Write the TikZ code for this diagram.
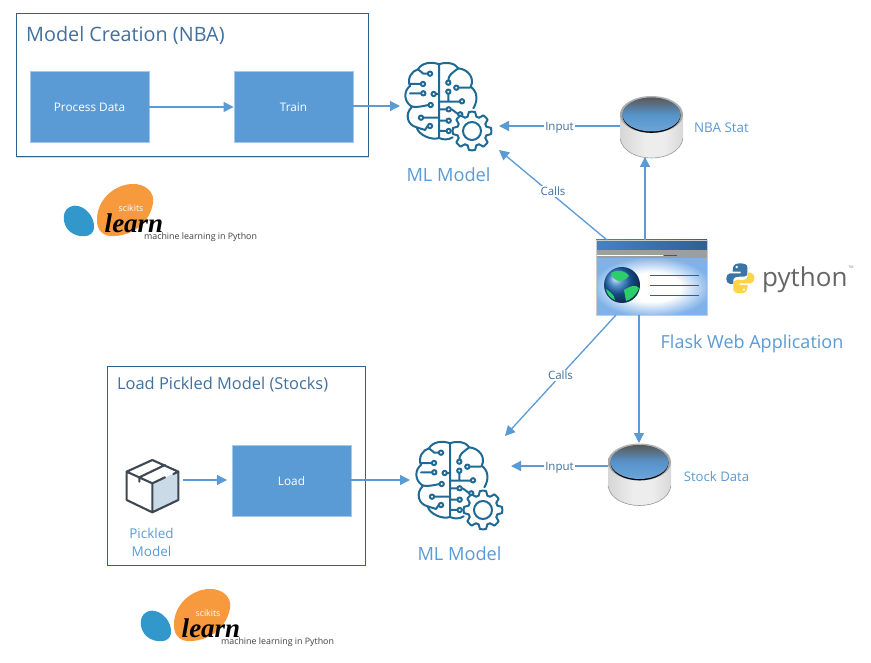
\documentclass[tikz,border=0pt]{standalone}
\usepackage{fontspec}
\setmainfont{Open Sans}
\newfontfamily\learnfont{Liberation Serif}
\usetikzlibrary{arrows.meta,shadows,calc}
\definecolor{fc}{HTML}{5B9BD5}
\definecolor{hd}{HTML}{41719C}
\definecolor{bb}{HTML}{2F6090}
\definecolor{br}{HTML}{1F6A94}
\definecolor{pk}{HTML}{3E4852}
\definecolor{webedge}{HTML}{7FB2E8}
\definecolor{cyla}{HTML}{7E7E7E}
\definecolor{cylb}{HTML}{C6C6C6}
\definecolor{cylc}{HTML}{EDEDED}
\pgfdeclareradialshading{webglow}{\pgfpoint{0bp}{0bp}}{color(0bp)=(white);color(13bp)=(white);color(27bp)=(webedge);color(50bp)=(webedge)}
\pgfdeclarehorizontalshading{cylbody}{100bp}{color(0bp)=(cyla);color(4bp)=(cyla);color(11bp)=(cylb);color(45bp)=(cylc);color(60bp)=(cylc);color(88bp)=(cylb);color(96bp)=(cyla);color(100bp)=(cyla)}
\newcommand{\fsz}[1]{\fontsize{#1}{#1}\selectfont}
\tikzset{
 x=1pt,y=-1pt,
 outerbox/.style={draw=bb,line width=0.8pt,fill=white,anchor=north west,inner sep=0pt},
 bluebox/.style={draw=fc!55!white,line width=0.8pt,fill=fc,anchor=center,inner sep=0pt,minimum width=119pt,minimum height=71pt,text=white,font=\fsz{11.8},drop shadow={shadow xshift=0.8pt,shadow yshift=-0.8pt,fill=black!40,opacity=0.5}},
 flow/.style={draw=fc,line width=1.3pt,-{Triangle[length=10pt,width=10pt]}},
 lab/.style={fill=white,inner sep=1pt,text=hd,font=\fsz{11.5}},
 title/.style={text=hd,font=\fsz{19.8},anchor=west,inner sep=0pt},
 txt/.style={text=fc,inner sep=0pt,align=center},
 brl/.style={draw=br,line width=2pt,line cap=round,line join=round},
 brainicon/.pic={
  \begin{scope}[scale=1/3]
   \draw[brl] (147,43) .. controls (125,34) and (95,38) .. (84,58) .. controls (66,62) and (50,85) .. (60,108) .. controls (42,122) and (40,150) .. (62,168) .. controls (70,172) and (85,172) .. (115,165)
     (65,172) .. controls (45,190) and (50,225) .. (80,232) .. controls (85,255) and (125,272) .. (147,264) -- (147,43);
   \draw[brl] (147,43) .. controls (165,35) and (195,38) .. (205,55) .. controls (235,58) and (255,85) .. (242,110) .. controls (262,125) and (265,150) .. (250,175)
     (147,264) .. controls (160,270) and (175,270) .. (188,262);
   \draw[brl] (84,58) -- (100,71) -- (113,71) (58,102) -- (92,102) (60,130) -- (93,130) (147,132) -- (137,132)
     (100,203) -- (147,203) (80,232) -- (105,240) -- (113,228);
   \foreach \p in {(120,71),(99,102),(100,130),(131,132),(122,165),(93,203),(120,228)} \draw[brl,fill=white] \p circle (6.5);
   \draw[brl] (175,92) .. controls (175,75) and (185,70) .. (205,55) (205,113) -- (240,113)
     (175,127) -- (175,155) (147,155) -- (210,155) (147,178) -- (170,178) (147,212) -- (170,212) (147,243) -- (170,243) (185,178) -- (204,192);
   \foreach \p in {(175,98),(199,113),(175,125),(216,154),(176,178),(211,193),(176,212),(176,243)} \draw[brl,fill=white] \p circle (6.5);
   \draw[brl,fill=white] ($(246,243)+(0:58)$)
    \foreach \a in {0,45,...,315}{
      -- ($(246,243)+(\a+9:58)$) -- ($(246,243)+(\a+17:45)$) -- ($(246,243)+(\a+28:45)$) -- ($(246,243)+(\a+36:58)$) -- ($(246,243)+(\a+45:58)$)
    } -- cycle;
   \draw[brl,fill=white] (246,243) circle (27);
  \end{scope}
 },
 cylicon/.pic={
  \shade[shading=cylbody] (-31.5,-2) -- (31.5,-2) -- (31.5,24) .. controls (27,50) and (-27,50) .. (-31.5,24) -- cycle;
  \draw[black!40,line width=0.6pt] (-31.5,24) .. controls (-27,50) and (27,50) .. (31.5,24);
  \shade[top color=black!30,bottom color=black!40] (0,0) ellipse[x radius=31.5,y radius=18.5];
  \path[fill=black] (0,0.8) ellipse[x radius=29,y radius=17.5];
  \shade[top color=black!65,bottom color=fc!90!white,middle color=fc!95!black] (0,0) ellipse[x radius=29,y radius=17];
 },
 pkgicon/.pic={
  \begin{scope}[scale=1/3]
   \fill[fill=pk!30!fc!30!white] (127,100) -- (205,65) -- (205,150) -- (127,187) -- cycle;
   \draw[draw=pk,line width=2.1pt,line join=round,line cap=round] (127,30) -- (205,65) -- (205,150) -- (127,187) -- (50,150) -- (50,65) -- cycle
     (50,65) -- (127,100) -- (127,187) (127,100) -- (165,82) (190,72) -- (205,65) (165,45) -- (88,82) -- (88,95);
  \end{scope}
 },
 skl/.pic={
  \begin{scope}[scale=1/3]
   \fill[fill={rgb,255:red,247;green,154;blue,62}] (245,27) .. controls (290,25) and (315,55) .. (309,85) .. controls (300,135) and (260,175) .. (205,182) .. controls (165,190) and (138,170) .. (141,130) .. controls (143,75) and (190,30) .. (245,27) -- cycle;
   \fill[fill={rgb,255:red,50;green,152;blue,204}] (75,92) .. controls (105,92) and (135,125) .. (132,160) .. controls (128,190) and (85,190) .. (60,170) .. controls (35,150) and (30,95) .. (75,92) -- cycle;
  \end{scope}
 },
 pylogo/.pic={
  \begin{scope}[scale=1/3]
   \fill[fill={rgb,255:red,58;green,117;blue,170}] (449,550) .. controls (430,550) and (428,560) .. (428,575) -- (452,575) -- (452,580) -- (420,580) .. controls (405,582) and (405,610) .. (420,612) -- (430,612) -- (430,600) .. controls (430,592) and (440,590) .. (450,590) -- (462,590) .. controls (470,590) and (472,585) .. (472,578) -- (472,562) .. controls (472,553) and (462,550) .. (449,550) -- cycle;
   \fill[fill={rgb,255:red,255;green,212;blue,70}] (452,640) .. controls (470,640) and (473,630) .. (473,615) -- (449,615) -- (449,610) -- (482,610) .. controls (497,608) and (497,580) .. (482,578) -- (472,578) -- (472,590) .. controls (472,598) and (462,600) .. (452,600) -- (440,600) .. controls (432,600) and (430,605) .. (430,612) -- (430,628) .. controls (430,637) and (440,640) .. (452,640) -- cycle;
   \fill[white] (440,561) circle (4) (462,629) circle (4);
  \end{scope}
 },
 browser/.pic={
  \shade[left color={rgb,255:red,70;green,130;blue,200},right color=bb] (0,0) rectangle (111,10);
  \fill[black!38] (0,10) rectangle (111,19);
  \draw[white,line width=0.7pt] (1,15) -- (67,15);
  \draw[green!55!black,line width=0.7pt] (68,15) -- (81,15);
  \shade[shading=webglow] (0,19) rectangle (111,75);
  \draw[black!20,line width=0.8pt] (0,0) rectangle (111,75);
  \draw[bb,line width=0.8pt] (54,35) -- (103,35) (54,45) -- (103,45) (54,55) -- (103,55);
  \shade[ball color={rgb,255:red,30;green,110;blue,190}] (26,45) circle (18);
  \fill[green!50!fc] (15,33) .. controls (22,29) and (30,31) .. (33,36) .. controls (28,42) and (18,44) .. (15,33) -- cycle
    (28,50) .. controls (34,46) and (40,44) .. (43,48) .. controls (40,56) and (34,60) .. (30,61) -- cycle
    (10,49) .. controls (14,52) and (18,54) .. (19,60) .. controls (14,58) and (11,54) .. (10,49) -- cycle;
 }
}
\begin{document}
\begin{tikzpicture}
\useasboundingbox (0,0) rectangle (871,663);
\fill[white] (0,0) rectangle (871,663);
\node[outerbox,minimum width=352pt,minimum height=143pt,drop shadow={shadow xshift=0.8pt,shadow yshift=-0.8pt,fill=black!30}] (creation) at (15.5,13.5) {};
\node[outerbox,minimum width=258pt,minimum height=198pt,drop shadow={shadow xshift=0.8pt,shadow yshift=-0.8pt,fill=black!30}] (pickled) at (106.5,366.5) {};
\node[title] (creationT) at (26,36) {Model Creation (NBA)};
\node[title,font=\fsz{16.4}] (pickledT) at (117,384.5) {Load Pickled Model (Stocks)};
\node[bluebox] (proc) at (89.5,107) {Process Data};
\node[bluebox] (train) at (293.5,107) {Train};
\node[bluebox] (load) at (291.5,481) {Load};
\pic (brainA) at (390,50) {brainicon};
\pic (brainB) at (401,429) {brainicon};
\pic (cylA) at (651.5,114.5) {cylicon};
\pic (cylB) at (639.5,462) {cylicon};
\pic (web) at (596,240) {browser};
\pic (pkg) at (110,450) {pkgicon};
\pic (logoA) at (50,175) {skl};
\pic (logoB) at (127,580) {skl};
\pic (py) at (590,80) {pylogo};
\node[inner sep=0pt,text=white,font=\fsz{8.8}] (sciA) at (131,208.5) {scikits};
\node[inner sep=0pt,font=\learnfont\bfseries\itshape\fsz{27}] (leA) at (134,223) {learn};
\node[inner sep=0pt,text=black!75,font=\fsz{8.85},anchor=west] (maA) at (144,237.5) {machine learning in Python};
\node[inner sep=0pt,text=white,font=\fsz{8.8}] (sciB) at (208,613.5) {scikits};
\node[inner sep=0pt,font=\learnfont\bfseries\itshape\fsz{27}] (leB) at (211,628) {learn};
\node[inner sep=0pt,text=black!75,font=\fsz{8.85},anchor=west] (maB) at (221,642.5) {machine learning in Python};
\node[inner sep=0pt,text=black!60,font=\fsz{26},anchor=west] (pyT) at (762,280) {python};
\node[inner sep=0pt,text=black!50,font=\fsz{3.5}] (pyTM) at (851,267) {TM};
\node[txt,font=\fsz{18.2}] (mlA) at (448.5,175) {ML Model};
\node[txt,font=\fsz{18.2}] (mlB) at (459.5,554) {ML Model};
\node[txt,font=\fsz{13.4}] (nbaT) at (721.5,127.5) {NBA Stat};
\node[txt,font=\fsz{13.2}] (stockT) at (716.5,477) {Stock Data};
\node[txt,font=\fsz{18}] (flask) at (752,343.5) {Flask Web Application};
\node[txt,font=\fsz{13.5},align=center] (pkT) at (151.5,542) {Pickled\\[4.5pt]Model};
\coordinate (brainAl) at (400,106);
\coordinate (brainAr) at (499,126);
\coordinate (brainAd) at (499,150);
\coordinate (brainBl) at (410,480);
\coordinate (brainBr) at (511,466);
\coordinate (brainBu) at (505,436);
\coordinate (cylAl) at (620,126);
\coordinate (cylAb) at (645,157);
\coordinate (cylBl) at (608,466);
\coordinate (cylBt) at (639,443);
\coordinate (webA) at (607,240);
\coordinate (webB) at (645,240);
\coordinate (webC) at (616,315);
\coordinate (webD) at (639,315);
\coordinate (pkgR) at (183,480);
\coordinate (loadL) at (227,480);
\draw[flow] (proc.east) -- (train.west);
\draw[flow] (train.east |- brainAl) -- (brainAl);
\draw[flow] (load.east |- brainBl) -- (brainBl);
\draw[flow] (pkgR) -- (loadL);
\draw[flow] (cylAl) -- node[lab,yshift=-1.5pt] {Input} (brainAr);
\draw[flow] (webA) -- node[lab,pos=0.5,xshift=0pt,yshift=3.5pt] {Calls} (brainAd);
\draw[flow] (webB) -- (cylAb);
\draw[flow] (webC) -- node[lab,pos=0.5] {Calls} (brainBu);
\draw[flow] (webD) -- (cylBt);
\draw[flow] (cylBl) -- node[lab,pos=0.5,yshift=-1.5pt] {Input} (brainBr);
\end{tikzpicture}
\end{document}
